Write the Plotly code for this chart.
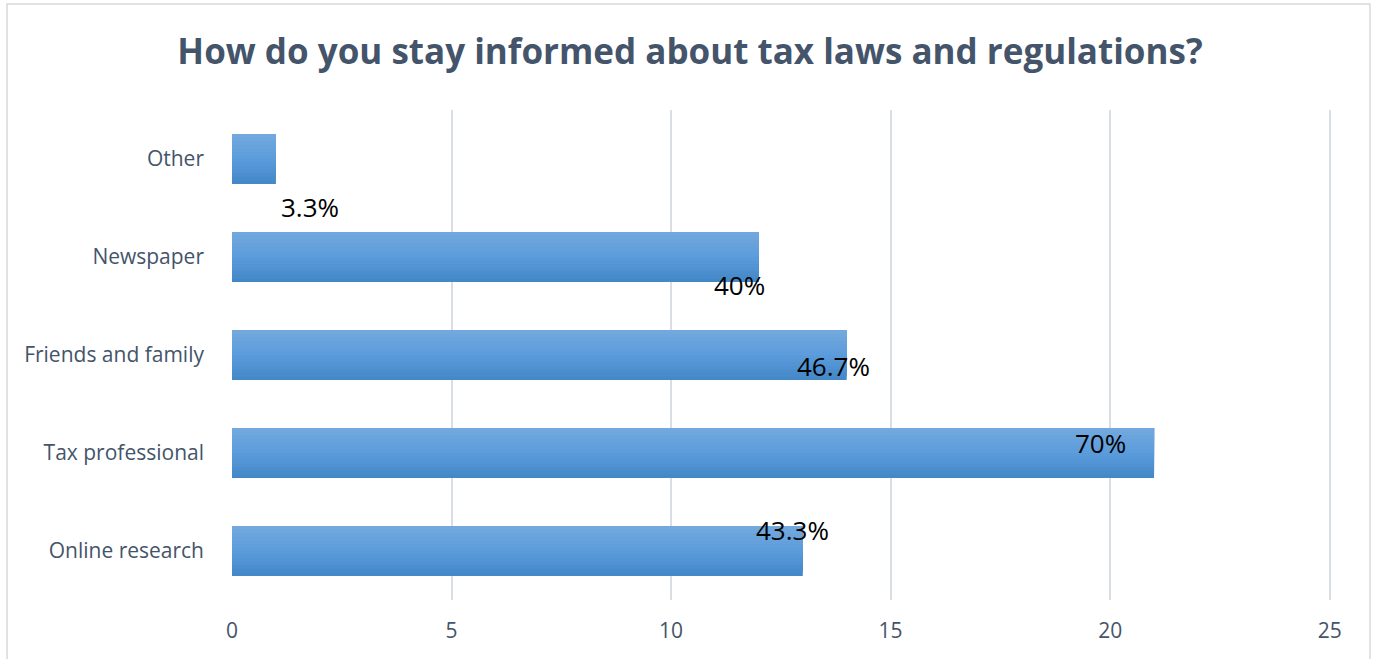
import plotly.graph_objects as go

categories = ["Online research", "Tax professional", "Friends and family", "Newspaper", "Other"]
counts = [13, 21, 14, 12, 1]
labels = ["43.3%", "70%", "46.7%", "40%", "3.3%"]
x_ticks = [0, 5, 10, 15, 20, 25]

# label nudges (px) relative to bar end / category centre, mimicking the hand-placed Excel labels
label_dx = [-10, -54, -13, -19, 34]
label_dy = [21, 10, -11, -28, -48]

title_color = "#44546A"
axis_color = "#44546A"
grid_color = "#D9DEE5"

fig = go.Figure()

# vertical gradient on the bars, built from overlapping bands (dark bottom -> light top)
bar_w = 0.51
n_bands = 14
top_rgb = (0x72, 0xA8, 0xDE)
mid_rgb = (0x5B, 0x9C, 0xDB)
bot_rgb = (0x44, 0x88, 0xC8)


def lerp(a, b, t):
    return tuple(int(round(a[k] + (b[k] - a[k]) * t)) for k in range(3))


for i in range(n_bands):
    t = i / (n_bands - 1)  # 0 bottom, 1 top
    if t < 0.5:
        c = lerp(bot_rgb, mid_rgb, t / 0.5)
    else:
        c = lerp(mid_rgb, top_rgb, (t - 0.5) / 0.5)
    start = -bar_w / 2 + i * bar_w / n_bands
    fig.add_trace(go.Bar(
        x=counts, y=categories, orientation="h",
        width=bar_w - i * bar_w / n_bands,
        offset=start,
        marker=dict(color="rgb(%d,%d,%d)" % c, line=dict(width=0)),
        showlegend=False,
        hoverinfo="skip" if i else None,
    ))

for cat, v, lab, dx, dy in zip(categories, counts, labels, label_dx, label_dy):
    fig.add_annotation(x=v, y=cat, text=lab, showarrow=False,
                       xanchor="center", yanchor="middle",
                       xshift=dx, yshift=dy,
                       font=dict(family="Open Sans", size=26, color="#000000"))

# outer chart border
fig.add_shape(type="rect", xref="paper", yref="paper",
              x0=-0.2047, x1=1.0355, y0=-0.14, y1=1.2163,
              line=dict(color="#D9D9D9", width=1.5), fillcolor="rgba(0,0,0,0)", layer="below")

fig.update_layout(
    width=1380, height=659,
    barmode="overlay",
    paper_bgcolor="white", plot_bgcolor="white",
    margin=dict(l=232, r=49, t=110, b=59),
    title=dict(text="<b>How do you stay informed about tax laws and regulations?</b>",
               x=0.5, xanchor="center", y=1 - 52 / 659, yanchor="middle",
               xref="container", yref="container",
               font=dict(family="Open Sans", size=35, color=title_color)),
    xaxis=dict(range=[0, 25.03], tickvals=x_ticks, showgrid=True, gridcolor=grid_color, gridwidth=1.5,
               zeroline=False, showline=False, ticks="",
               tickfont=dict(family="Open Sans", size=21, color=axis_color),
               ticklabelstandoff=16),
    yaxis=dict(categoryorder="array", categoryarray=categories, showgrid=False,
               zeroline=False, showline=False, ticks="",
               tickfont=dict(family="Open Sans", size=21, color=axis_color),
               ticklabelstandoff=27),
    bargap=0.49,
)

fig.write_html("out.html")
